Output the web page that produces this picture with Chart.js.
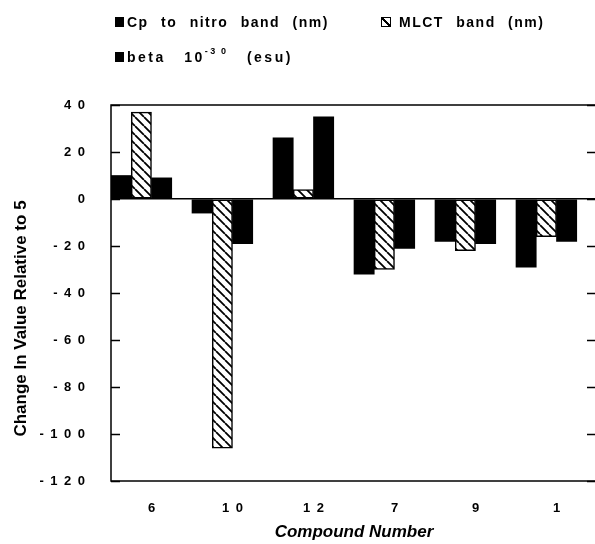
<!DOCTYPE html>
<html>
<head>
<meta charset="utf-8">
<script src="https://cdn.jsdelivr.net/npm/chart.js@4/dist/chart.umd.min.js"></script>
<style>
  body { margin: 0; background: #fff; overflow: hidden; }
  .wrap { position: relative; width: 595px; height: 544px; overflow: hidden; }
  canvas { position: absolute; left: 0; top: 0; }
  .legend { position: absolute; font: bold 14px "Liberation Sans", Arial, sans-serif; color: #000;
    letter-spacing: 1.5px; word-spacing: 7px; white-space: nowrap; line-height: 16px; }
  .legend .box { display: inline-block; width: 9px; height: 10px; background: #000; margin-right: 3px; vertical-align: 0; }
  .legend .hatch { box-sizing: border-box; width: 10px; height: 10px; border: 1.5px solid #000; margin-right: 8px;
    background: linear-gradient(to top right, #fff 42%, #000 42%, #000 58%, #fff 58%); }
  .legend sup { font-size: 9px; letter-spacing: 2.5px; line-height: 0; position: relative; top: -2px; }
</style>
</head>
<body>
<div class="wrap">
  <canvas id="myChart" width="600" height="544"></canvas>
  <div class="legend" style="left:115px; top:14px;"><span class="box"></span>Cp to nitro band (nm)</div>
  <div class="legend" style="left:381px; top:14px;"><span class="box hatch"></span>MLCT band (nm)</div>
  <div class="legend" style="left:115px; top:49px; letter-spacing:2.5px; word-spacing:12px;"><span class="box"></span>beta 10<sup>-3&#8202;0</sup> (esu)</div>
</div>
<script>
'use strict';

//data

//compounds along the bottom
const compounds = ['6', '10', '12', '7', '9', '1'];
//change relative to compound 5
const cpNitro = [10, -6, 26, -32, -18, -29];
const mlct = [37, -106, 4, -30, -22, -16];
const beta = [9, -19, 35, -21, -19, -18];
//empty fourth slot in each group, the original leaves a gap on the right
const gapSlot = [null, null, null, null, null, null];
//y axis range
const yMin = -120;
const yMax = 40;
const yStep = 20;

//helpers

//spread digits out like the old plotter did
function spaced(text) {
  return String(text).split('').join('\u2002');
}

//diagonal hatch for the MLCT bars
function makeHatch() {
  const size = 9;
  const tile = document.createElement('canvas');
  tile.width = size;
  tile.height = size;
  const c = tile.getContext('2d');
  c.fillStyle = '#fff';
  c.fillRect(0, 0, size, size);
  c.strokeStyle = '#000';
  c.lineWidth = 1.8;
  c.beginPath();
  for(let k = -size; k <= size; k += size) {
    c.moveTo(k, 0);
    c.lineTo(k + size, size);
  }
  c.stroke();
  return c.createPattern(tile, 'repeat');
}

//frame round the plot plus inward ticks on both sides
const framePlugin = {
  id: 'frame',
  afterDraw(chart) {
    const ctx = chart.ctx;
    const area = chart.chartArea;
    const y = chart.scales.y;
    ctx.save();
    ctx.strokeStyle = '#000';
    ctx.lineWidth = 1.5;
    ctx.strokeRect(area.left, area.top, area.right - area.left, area.bottom - area.top);
    ctx.beginPath();
    for(let tick of y.ticks) {
      const py = Math.round(y.getPixelForValue(tick.value)) + 0.5;
      ctx.moveTo(area.left, py);
      ctx.lineTo(area.left + 9, py);
      ctx.moveTo(area.right - 10, py);
      ctx.lineTo(area.right, py);
    }
    ctx.stroke();
    ctx.restore();
  }
};

//main

const canvas = document.getElementById('myChart');
const font = { family: '"Liberation Sans", Arial, sans-serif', weight: 'bold' };

const data = {
  labels: compounds,
  datasets: [{
    label: 'Cp to nitro band (nm)',
    data: cpNitro,
    backgroundColor: '#000',
    borderWidth: 0
  }, {
    label: 'MLCT band (nm)',
    data: mlct,
    backgroundColor: makeHatch(),
    borderColor: '#000',
    borderWidth: 1.5,
    borderSkipped: false
  }, {
    label: 'beta 10⁻³⁰ (esu)',
    data: beta,
    backgroundColor: '#000',
    borderWidth: 0
  }, {
    label: '',
    data: gapSlot
  }]
};

const config = {
  type: 'bar',
  data: data,
  options: {
    responsive: false,
    animation: false,
    devicePixelRatio: 1,
    layout: { padding: { left: 0, right: 3, top: 105, bottom: 0 } },
    datasets: { bar: { categoryPercentage: 1, barPercentage: 1 } },
    plugins: {
      legend: { display: false },
      tooltip: { enabled: false }
    },
    scales: {
      x: {
        grid: { display: false, drawTicks: false },
        border: { display: false },
        ticks: {
          color: '#000',
          padding: 20,
          maxRotation: 0,
          font: Object.assign({ size: 13 }, font),
          callback: function(value) {
            return spaced(this.getLabelForValue(value));
          }
        },
        title: {
          display: true,
          text: 'Compound Number',
          color: '#000',
          font: Object.assign({ size: 17, style: 'italic' }, font),
          padding: { top: 0, bottom: 1 }
        },
        afterFit: (scale) => { scale.height = 63; }
      },
      y: {
        min: yMin,
        max: yMax,
        grid: {
          drawTicks: false,
          lineWidth: 1.5,
          color: (ctx) => ctx.tick && ctx.tick.value === 0 ? '#000' : 'rgba(0,0,0,0)'
        },
        border: { display: false },
        ticks: {
          stepSize: yStep,
          color: '#000',
          padding: 26,
          font: Object.assign({ size: 13 }, font),
          callback: (value) => spaced(value)
        },
        title: {
          display: true,
          //trailing spaces push the title down a little, as in the original
          text: 'Change In Value Relative to 5\u2003\u2003\u2003',
          color: '#000',
          font: Object.assign({ size: 17 }, font),
          padding: { top: 11, bottom: 0 }
        },
        afterFit: (scale) => { scale.width = 111; }
      }
    }
  },
  plugins: [framePlugin]
};

let myChart = new Chart(canvas, config);
</script>
</body>
</html>
